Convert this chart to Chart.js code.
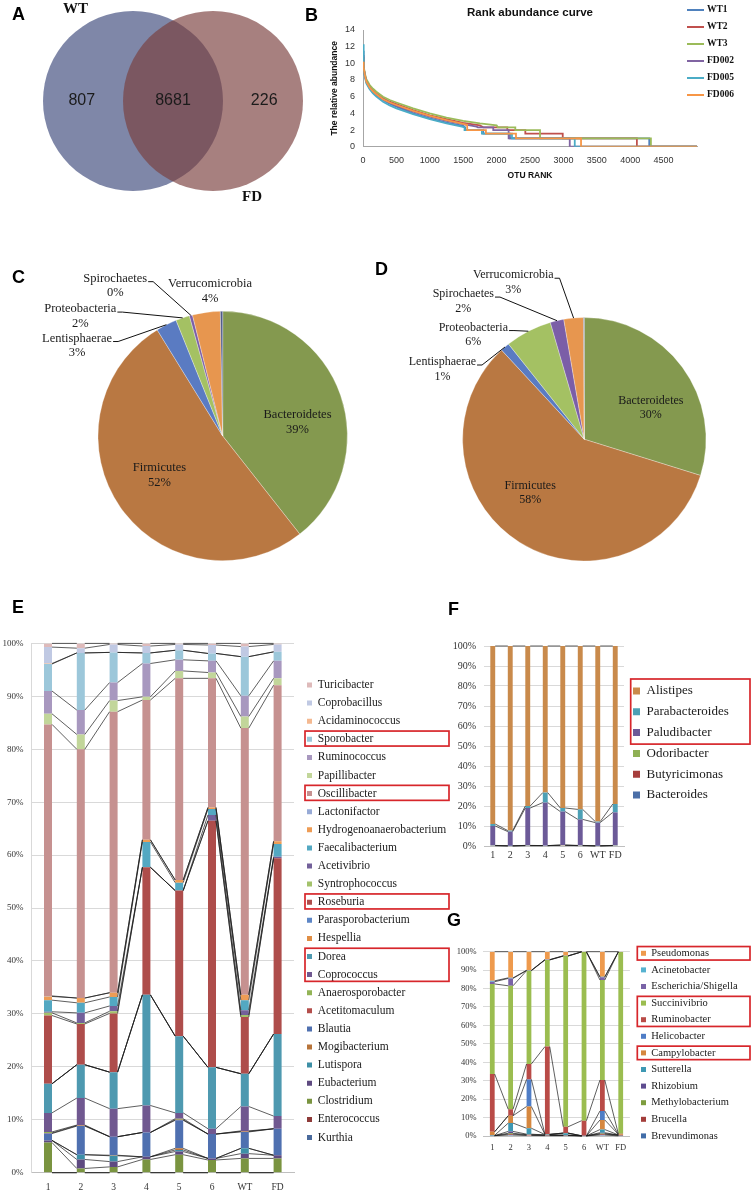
<!DOCTYPE html>
<html>
<head>
<meta charset="utf-8">
<title>Gut microbiota WT vs FD</title>
<script src="https://cdn.jsdelivr.net/npm/chart.js@4.4.1/dist/chart.umd.min.js"></script>
<style>
  html, body { margin: 0; padding: 0; background: #fff; }
  #page { position: relative; width: 756px; height: 1196px; overflow: hidden; }
  canvas { position: absolute; }
  .panel { position: absolute; font: bold 18px "Liberation Sans", Arial, sans-serif; line-height: 1; color: #000; }
  .setname { position: absolute; font: bold 15px "Liberation Serif", serif; line-height: 1; color: #111; }
  .rank-item { position: absolute; left: 687px; height: 15px; line-height: 15px; font: bold 9.5px "Liberation Serif", serif; color: #111; white-space: nowrap; }
  .rank-item span { display: inline-block; width: 17px; height: 2px; vertical-align: middle; margin-right: 3px; }
</style>
</head>
<body>
<div id="page">
  <canvas id="vennChart" width="320" height="202" style="left:0;top:0"></canvas>
  <canvas id="rankChart" width="426" height="186" style="left:330px;top:0"></canvas>
  <canvas id="pieWT" width="370" height="330" style="left:0;top:250px"></canvas>
  <canvas id="pieFD" width="386" height="330" style="left:370px;top:250px"></canvas>
  <canvas id="firmChart"></canvas>
  <canvas id="bactChart"></canvas>
  <canvas id="protChart"></canvas>
  <div id="rankLegend"></div>

  <div class="panel" style="left:12px;top:4.5px">A</div>
  <div class="panel" style="left:305px;top:5.5px">B</div>
  <div class="panel" style="left:12px;top:267.5px">C</div>
  <div class="panel" style="left:375px;top:259.5px">D</div>
  <div class="panel" style="left:12px;top:597.5px">E</div>
  <div class="panel" style="left:448px;top:599.5px">F</div>
  <div class="panel" style="left:447px;top:910.5px">G</div>
  <div class="setname" style="left:63px;top:0.7px">WT</div>
  <div class="setname" style="left:242px;top:189px">FD</div>
</div>
<script>
Chart.defaults.font.family = '"Liberation Serif", "Times New Roman", serif';
Chart.defaults.color = '#222';

// ---- A: shared OTUs ----
const vennSets = ['WT', 'FD'];
const vennCounts = [807, 8681, 226];   // WT only, shared, FD only

// ---- B: rank abundance curves [OTU rank, relative abundance] ----
const rankSamples = ['WT1', 'WT2', 'WT3', 'FD002', 'FD005', 'FD006'];
const rankWT1 = [[0,11.5],[10,9.6],[25,8.6],[50,7.8],[100,7.0],[150,6.5],[200,6.2],[300,5.6],[400,5.15],[500,4.8],[750,4.0],[1000,3.4],[1250,2.9],[1500,2.5],[1530,2.32],[1530,2],[1800,2],[1800,1.58],[2200,1.58],[2200,1],[4285,1],[4285,0],[5000,0]];
const rankWT2 = [[0,10.8],[10,9.6],[25,8.7],[50,7.9],[100,7.2],[150,6.75],[200,6.4],[300,5.8],[400,5.4],[500,5.1],[750,4.4],[1000,3.75],[1250,3.3],[1500,2.85],[1750,2.55],[1800,2.32],[2160,2.32],[2160,2],[2430,2],[2430,1.58],[2990,1.58],[2990,1],[4100,1],[4100,0],[5000,0]];
const rankWT3 = [[0,10.6],[10,9.7],[25,8.9],[50,8.1],[100,7.4],[150,6.95],[200,6.6],[300,6.0],[400,5.6],[500,5.3],[750,4.6],[1000,4.0],[1250,3.5],[1500,3.1],[1750,2.8],[2000,2.55],[2020,2.32],[2280,2.32],[2280,2],[2650,2],[2650,1],[4310,1],[4310,0],[5000,0]];
const rankFD002 = [[0,11.0],[10,9.5],[25,8.7],[50,7.8],[100,7.1],[150,6.6],[200,6.3],[300,5.7],[400,5.25],[500,4.9],[750,4.2],[1000,3.6],[1250,3.1],[1500,2.7],[1700,2.4],[1720,2.32],[1950,2.32],[1950,2],[2180,2],[2180,1],[3095,1],[3095,0],[5000,0]];
const rankFD005 = [[0,12.3],[10,9.4],[25,8.5],[50,7.6],[100,6.9],[150,6.4],[200,6.0],[300,5.4],[400,4.95],[500,4.6],[750,3.9],[1000,3.3],[1250,2.8],[1480,2.4],[1520,2.32],[1520,2],[1780,2],[1780,1.58],[2230,1.58],[2230,1],[3170,1],[3170,0],[5000,0]];
const rankFD006 = [[0,10.2],[10,9.5],[25,8.7],[50,7.8],[100,7.1],[150,6.65],[200,6.3],[300,5.7],[400,5.3],[500,5.0],[750,4.3],[1000,3.7],[1250,3.2],[1500,2.75],[1560,2.6],[1560,2],[1840,2],[1840,1.58],[2290,1.58],[2290,1],[3264,1],[3264,0],[5000,0]];
const rankColors = ['#4F81BD', '#C0504D', '#9BBB59', '#8064A2', '#4BACC6', '#F79646'];

// ---- C / D: phylum composition (%) ----
const phyla = ['Bacteroidetes', 'Firmicutes', 'Lentisphaerae', 'Proteobacteria', 'Spirochaetes', 'Verrucomicrobia', 'Other'];
const phylumWT = [39.4, 51.8, 2.7, 1.8, 0.4, 3.6, 0.3];
const phylumFD = [29.8, 58.3, 1.2, 6.2, 1.8, 2.6, 0.1];
const phylumColors = ['#84994F', '#B97842', '#5A7BC2', '#A4C163', '#7B5EA7', '#E7964F', '#4F5C8A'];

// ---- E/F/G: genus level, samples ----
const samples = ['1', '2', '3', '4', '5', '6', 'WT', 'FD'];

// Firmicutes genera, bottom of stack first
const firmicutesGenera = ['Kurthia', 'Enterococcus', 'Clostridium', 'Eubacterium', 'Lutispora', 'Mogibacterium', 'Blautia',
  'Acetitomaculum', 'Anaerosporobacter', 'Coprococcus', 'Dorea', 'Hespellia', 'Parasporobacterium', 'Roseburia',
  'Syntrophococcus', 'Acetivibrio', 'Faecalibacterium', 'Hydrogenoanaerobacterium', 'Lactonifactor', 'Oscillibacter',
  'Papillibacter', 'Ruminococcus', 'Sporobacter', 'Acidaminococcus', 'Coprobacillus', 'Turicibacter'];
const firmicutesShares = [
  [0, 0, 0, 0, 0, 0, 0, 0],                          // Kurthia
  [0, 0, 0, 0, 0, 0, 0, 0],                          // Enterococcus
  [5.7, 0.8, 1.1, 2.5, 3.4, 2.4, 2.7, 2.7],          // Clostridium
  [0.4, 1.7, 1.0, 0.5, 0.6, 0.3, 0.9, 0.6],          // Eubacterium
  [0, 0.9, 1.1, 0, 0.3, 0, 1.0, 0],                  // Lutispora
  [0, 0, 0.1, 0, 0.3, 0, 0, 0],                      // Mogibacterium
  [1.3, 5.4, 3.5, 4.6, 5.3, 4.6, 3.1, 5.0],          // Blautia
  [0.1, 0.1, 0, 0, 0.1, 0, 0.1, 0],                  // Acetitomaculum
  [0.2, 0.1, 0, 0, 0.2, 0, 0.1, 0],                  // Anaerosporobacter
  [3.6, 5.1, 5.3, 5.1, 1.1, 1.0, 4.6, 2.4],          // Coprococcus
  [5.5, 6.3, 6.9, 20.9, 14.5, 11.6, 6.2, 15.5],      // Dorea
  [0, 0, 0, 0, 0, 0, 0, 0],                          // Hespellia
  [0, 0, 0, 0, 0, 0, 0, 0],                          // Parasporobacterium
  [12.9, 7.7, 11.1, 24.1, 27.5, 46.6, 10.7, 33.2],   // Roseburia
  [0.5, 0.2, 0.4, 0, 0, 0, 0.4, 0],                  // Syntrophococcus
  [0.2, 1.9, 1.0, 0, 0, 1.1, 0.9, 0.3],              // Acetivibrio
  [2.2, 1.9, 1.7, 4.8, 1.5, 1.1, 1.9, 2.4],          // Faecalibacterium
  [0.7, 0.9, 0.8, 0.4, 0.5, 0.3, 1.0, 0.5],          // Hydrogenoanaerobacterium
  [0.1, 0, 0, 0, 0, 0, 0, 0],                        // Lactonifactor
  [51.3, 47.0, 53.1, 26.4, 38.1, 24.4, 50.4, 29.5],  // Oscillibacter
  [2.0, 2.8, 2.1, 0.6, 1.4, 1.1, 2.2, 1.3],          // Papillibacter
  [4.3, 4.6, 3.4, 6.3, 2.1, 2.2, 3.9, 3.3],          // Ruminococcus
  [5.1, 10.8, 5.7, 2.0, 1.8, 1.4, 7.4, 1.7],         // Sporobacter
  [0.1, 0, 0, 0, 0, 0, 0, 0],                        // Acidaminococcus
  [3.1, 0.9, 1.5, 1.3, 1.1, 1.6, 1.9, 1.4],          // Coprobacillus
  [0.7, 0.9, 0.2, 0.5, 0.2, 0.3, 0.6, 0.2]           // Turicibacter
];
const firmicutesColors = ['#4A6A9C', '#8E3B39', '#7A9440', '#5E4A80', '#3D8FA6', '#B7743A', '#4F70B0',
  '#B44E4B', '#93B457', '#705890', '#4E99B0', '#E08E45', '#5D86C6', '#AE4D4B',
  '#A3C26B', '#73609A', '#53A8C2', '#EE9C55', '#97AAD6', '#C69190',
  '#C2D69A', '#A898BF', '#9CC7DA', '#F4B991', '#C0C9E3', '#DEBABA'];

// Bacteroidetes genera, bottom first
const bacteroidetesGenera = ['Bacteroides', 'Butyricimonas', 'Odoribacter', 'Paludibacter', 'Parabacteroides', 'Alistipes'];
const bacteroidetesShares = [
  [0.2, 0.1, 0.2, 0.2, 0.3, 0.2, 0.1, 0.2],          // Bacteroides
  [0, 0, 0, 0, 0.1, 0, 0, 0],                        // Butyricimonas
  [0.1, 0, 0.1, 0, 0.1, 0.1, 0, 0.1],                // Odoribacter
  [9.7, 7.1, 18.7, 21.5, 16.7, 13.0, 11.6, 16.5],    // Paludibacter
  [1.0, 0.5, 1.0, 5.0, 1.8, 5.0, 0.5, 4.2],          // Parabacteroides
  [89.0, 92.3, 80.0, 73.3, 81.0, 81.7, 87.8, 79.0]   // Alistipes
];
const bacteroidetesColors = ['#4B6FA8', '#A63E3C', '#8FB055', '#6C5A98', '#4DA0B5', '#C98A4B'];

// Proteobacteria genera, bottom first
const proteobacteriaGenera = ['Brevundimonas', 'Brucella', 'Methylobacterium', 'Rhizobium', 'Sutterella', 'Campylobacter',
  'Helicobacter', 'Ruminobacter', 'Succinivibrio', 'Escherichia/Shigella', 'Acinetobacter', 'Pseudomonas'];
const proteobacteriaShares = [
  [0.2, 0.5, 0.3, 0.2, 0.2, 0.1, 0.5, 0.1],          // Brevundimonas
  [0, 0.5, 0.2, 0.2, 0.1, 0, 0.5, 0.3],              // Brucella
  [0, 0.5, 0.2, 0.1, 0.1, 0, 0.3, 0.1],              // Methylobacterium
  [0, 1.0, 0.3, 0.1, 0.1, 0, 0.5, 0],                // Rhizobium
  [0.2, 4.5, 3.2, 0.2, 1.0, 0, 1.7, 0.1],            // Sutterella
  [1.9, 4.0, 11.8, 0.1, 0.1, 0, 5.2, 0.3],           // Campylobacter
  [0, 0, 14.7, 0, 0, 0, 4.9, 0],                     // Helicobacter
  [31.3, 3.5, 8.4, 47.6, 3.4, 8.2, 16.8, 0.3],       // Ruminobacter
  [48.9, 67.0, 50.6, 47.0, 92.6, 91.6, 54.2, 98.7],  // Succinivibrio
  [1.2, 4.0, 0.1, 0.1, 0.1, 0, 1.5, 0],              // Escherichia/Shigella
  [0.5, 0.3, 0.1, 0.1, 0.1, 0, 0.3, 0],              // Acinetobacter
  [15.8, 14.2, 10.1, 4.3, 2.2, 0.1, 13.6, 0.1]       // Pseudomonas
];
const proteobacteriaColors = ['#416DA8', '#A33D3A', '#7E9D3F', '#5E4C8F', '#3E98B3', '#D5873F',
  '#4F7DC6', '#B94B47', '#9BBD50', '#7A63A7', '#56B2D0', '#EE9A4D'];

// ---------- plugins ----------
const vennLabels = {
  id: 'vennLabels',
  afterDatasetsDraw(chart) {
    const { ctx, scales: { x, y } } = chart;
    const spots = [-0.64, 0.5, 1.64];
    ctx.save();
    ctx.font = '16px "Liberation Sans", Arial, sans-serif';
    ctx.fillStyle = '#1b1b1b';
    ctx.textAlign = 'center';
    ctx.textBaseline = 'middle';
    vennCounts.forEach((n, i) => ctx.fillText(String(n), x.getPixelForValue(spots[i]), y.getPixelForValue(0.5)));
    ctx.restore();
  }
};

const pieLabels = {
  id: 'pieLabels',
  afterDatasetsDraw(chart, args, opts) {
    const ctx = chart.ctx;
    const arcs = chart.getDatasetMeta(0).data;
    const vals = chart.data.datasets[0].data;
    const total = vals.reduce((a, b) => a + b, 0);
    const lh = opts.lineHeight;
    ctx.save();
    ctx.font = opts.size + 'px "Liberation Serif", serif';
    ctx.fillStyle = '#1a1a1a';
    ctx.strokeStyle = '#111';
    ctx.lineWidth = 1;
    ctx.textAlign = 'center';
    ctx.textBaseline = 'middle';
    opts.spots.forEach(s => {
      const i = chart.data.labels.indexOf(s.name);
      const arc = arcs[i];
      const r = arc.outerRadius;
      const tx = arc.x + s.dx * r, ty = arc.y + s.dy * r;
      ctx.fillText(s.name, tx, ty - lh / 2);
      ctx.fillText(Math.round(vals[i] / total * 100) + '%', tx, ty + lh / 2);
      if (s.leader) {
        const mid = (arc.startAngle + arc.endAngle) / 2;
        const sx = tx + ctx.measureText(s.name).width / 2 + 1, sy = ty - lh / 2 + 3;
        ctx.beginPath();
        ctx.moveTo(sx, sy);
        ctx.lineTo(sx + 5, sy);
        ctx.lineTo(arc.x + Math.cos(mid) * r, arc.y + Math.sin(mid) * r);
        ctx.stroke();
      }
    });
    ctx.restore();
  }
};

// Excel style series lines between neighbouring bars
const seriesLines = {
  id: 'seriesLines',
  afterDatasetsDraw(chart) {
    const ctx = chart.ctx;
    ctx.save();
    ctx.strokeStyle = '#1a1a1a';
    ctx.lineWidth = 0.7;
    chart.data.datasets.forEach((ds, d) => {
      const bars = chart.getDatasetMeta(d).data;
      ctx.beginPath();
      for (let i = 0; i < bars.length - 1; i++) {
        const a = bars[i], b = bars[i + 1];
        ctx.moveTo(a.x + a.width / 2, a.y);
        ctx.lineTo(b.x - b.width / 2, b.y);
      }
      ctx.stroke();
    });
    ctx.restore();
  }
};

// keep the right-hand legend at a fixed width so the plot area does not move
const legendWidthLock = {
  id: 'legendWidthLock',
  beforeLayout(chart, args, opts) {
    const lg = chart.legend;
    if (lg && !lg._widthLocked) {
      const fit = lg.fit;
      lg.fit = function () { fit.call(this); this.width = opts.width; };
      lg._widthLocked = true;
    }
  }
};

// red frames around highlighted legend entries
const legendFrames = {
  id: 'legendFrames',
  afterDraw(chart, args, opts) {
    const lg = chart.legend;
    if (!lg || !lg.legendHitBoxes || !opts.groups) return;
    const ctx = chart.ctx;
    ctx.save();
    ctx.strokeStyle = '#D7262B';
    ctx.lineWidth = 1.7;
    opts.groups.forEach(group => {
      const hits = lg.legendItems.map((it, i) => group.includes(it.text) ? lg.legendHitBoxes[i] : null).filter(Boolean);
      if (!hits.length) return;
      const top = Math.min(...hits.map(h => h.top)) - opts.above;
      const bottom = Math.max(...hits.map(h => h.top + h.height)) + opts.below;
      const left = hits[0].left - opts.inset;
      ctx.strokeRect(left, top, opts.right - left, bottom - top);
    });
    ctx.restore();
  }
};

// ---------- A ----------
new Chart(document.getElementById('vennChart'), {
  type: 'bubble',
  data: {
    datasets: vennSets.map((name, i) => ({
      label: name,
      data: [{ x: i, y: 0.5 }],
      backgroundColor: i === 0 ? '#7F87A8' : 'rgba(122,62,61,0.66)',
      borderWidth: 0,
      radius: 90,
      clip: false,
      order: vennSets.length - i
    }))
  },
  options: {
    responsive: false, animation: false, events: [],
    layout: { padding: 0, autoPadding: false },
    plugins: { legend: { display: false }, tooltip: { enabled: false } },
    scales: {
      x: { type: 'linear', display: false, min: -1.6625, max: 2.3375 },
      y: { type: 'linear', display: false, min: 0, max: 1 }
    }
  },
  plugins: [vennLabels]
});

// ---------- B ----------
const rankSeries = [rankWT1, rankWT2, rankWT3, rankFD002, rankFD005, rankFD006];
new Chart(document.getElementById('rankChart'), {
  type: 'scatter',
  data: {
    datasets: rankSamples.map((name, i) => ({
      label: name,
      data: rankSeries[i].map(([x, y]) => ({ x, y })),
      showLine: true,
      borderColor: rankColors[i],
      backgroundColor: rankColors[i],
      borderWidth: 1.8,
      pointRadius: 0,
      order: rankSamples.length - i
    }))
  },
  options: {
    responsive: false, animation: false, events: [],
    layout: { padding: { left: 0, top: 0, right: 59, bottom: 0 } },
    plugins: {
      legend: { display: false },
      tooltip: { enabled: false },
      title: {
        display: true, text: 'Rank abundance curve', fullSize: false, color: '#111',
        font: { family: '"Liberation Sans", Arial, sans-serif', size: 11.5, weight: 'bold' },
        padding: { top: 6.1, bottom: 10.1 }
      }
    },
    scales: {
      x: {
        type: 'linear', min: 0, max: 5000,
        grid: { display: false, drawTicks: false },
        border: { color: '#A6A6A6' },
        ticks: { stepSize: 500, padding: 8.6, maxRotation: 0, color: '#333',
          font: { family: '"Liberation Sans", Arial, sans-serif', size: 9 },
          callback: v => v === 5000 ? '' : String(v) },
        title: { display: true, text: 'OTU RANK', color: '#111',
          font: { family: '"Liberation Sans", Arial, sans-serif', size: 8.5, weight: 'bold' },
          padding: { top: 0, bottom: 4.9 } },
        afterFit: s => { s.height = 39.3; }
      },
      y: {
        min: 0, max: 14,
        grid: { display: false, drawTicks: false },
        border: { color: '#A6A6A6' },
        ticks: { stepSize: 2, padding: 8, color: '#333',
          font: { family: '"Liberation Sans", Arial, sans-serif', size: 9 } },
        title: { display: true, text: 'The relative abundance', color: '#111',
          font: { family: '"Liberation Sans", Arial, sans-serif', size: 8.5, weight: 'bold' },
          padding: { top: 0, bottom: 0 } },
        afterFit: s => { s.width = 33; }
      }
    }
  }
});

const rankLegend = document.getElementById('rankLegend');
rankSamples.forEach((name, i) => {
  const row = document.createElement('div');
  row.className = 'rank-item';
  row.style.top = (4.2 + i * 17) + 'px';
  row.innerHTML = '<span style="background:' + rankColors[i] + '"></span>' + name;
  rankLegend.appendChild(row);
});

// ---------- C / D ----------
function phylumPie(id, values, pad, size, spots) {
  new Chart(document.getElementById(id), {
    type: 'pie',
    data: {
      labels: phyla,
      datasets: [{ data: values, backgroundColor: phylumColors, borderColor: 'rgba(255,255,255,0.5)', borderWidth: 0.6, hoverOffset: 0 }]
    },
    options: {
      responsive: false, animation: false, events: [],
      layout: { padding: pad },
      plugins: {
        legend: { display: false }, tooltip: { enabled: false },
        pieLabels: { spots, size, lineHeight: 14.4 }
      }
    },
    plugins: [pieLabels]
  });
}

phylumPie('pieWT', phylumWT, { left: 97.7, right: 22.3, top: 61, bottom: 19 }, 12.5, [
  { name: 'Bacteroidetes', dx: 0.6, dy: -0.112 },
  { name: 'Firmicutes', dx: -0.507, dy: 0.316 },
  { name: 'Spirochaetes', dx: -0.862, dy: -1.204, leader: true },
  { name: 'Verrucomicrobia', dx: -0.102, dy: -1.16 },
  { name: 'Proteobacteria', dx: -1.142, dy: -0.96, leader: true },
  { name: 'Lentisphaerae', dx: -1.168, dy: -0.724, leader: true }
]);
phylumPie('pieFD', phylumFD, { left: 92.3, right: 49.7, top: 67.3, bottom: 18.7 }, 12, [
  { name: 'Bacteroidetes', dx: 0.547, dy: -0.257 },
  { name: 'Firmicutes', dx: -0.445, dy: 0.44 },
  { name: 'Verrucomicrobia', dx: -0.584, dy: -1.289, leader: true },
  { name: 'Spirochaetes', dx: -0.994, dy: -1.134, leader: true },
  { name: 'Proteobacteria', dx: -0.912, dy: -0.859, leader: true },
  { name: 'Lentisphaerae', dx: -1.166, dy: -0.576, leader: true }
]);

// ---------- E / F / G ----------
function genusPanel(id, genera, shares, colors, g, frames) {
  const el = document.getElementById(id);
  el.width = g.w; el.height = g.h;
  el.style.left = g.left + 'px'; el.style.top = g.top + 'px';
  const cl = g.area[0] - g.left, ct = g.area[1] - g.top, cr = g.area[2] - g.left, cb = g.area[3] - g.top;
  const pad = g.step - g.font;
  const itemTop = g.legendY - g.font / 2 - g.top;
  const P = Math.min(ct, itemTop - pad);
  const legendLeft = g.legendX - pad - g.left;
  const serif = '"Liberation Serif", "Times New Roman", serif';

  new Chart(el, {
    type: 'bar',
    data: {
      labels: samples,
      datasets: genera.map((name, k) => ({
        label: name, data: shares[k], backgroundColor: colors[k], borderWidth: 0,
        barPercentage: g.bar, categoryPercentage: 1
      }))
    },
    options: {
      responsive: false, animation: false, events: [],
      layout: { padding: { left: 0, top: P, right: 0, bottom: 0 } },
      plugins: {
        tooltip: { enabled: false },
        legend: {
          position: 'right', align: 'start', reverse: true,
          title: { display: true, text: '', font: { size: 1, lineHeight: 0 }, padding: { top: itemTop - pad - P, bottom: 0 } },
          labels: { boxWidth: g.box, boxHeight: g.box, padding: pad, color: '#1a1a1a', font: { family: serif, size: g.font } }
        },
        legendWidthLock: { width: g.w - legendLeft },
        legendFrames: frames
      },
      scales: {
        x: {
          stacked: true,
          grid: { display: false, drawTicks: false },
          border: { color: '#BFBFBF' },
          ticks: { padding: g.xPad, color: '#333', font: { family: serif, size: g.xFont }, maxRotation: 0, autoSkip: false },
          afterFit: s => { s.height = g.h - cb; }
        },
        y: {
          stacked: true, min: 0, max: 100,
          grid: { color: '#D9D9D9', drawTicks: false },
          border: { display: g.yLine, color: '#D9D9D9' },
          ticks: { stepSize: 10, padding: g.yPad, color: '#333', font: { family: serif, size: g.tickFont }, callback: v => v + '%' },
          afterFit: s => { s.width = cl; }
        },
        topGap: {
          type: 'linear', position: 'top', display: true,
          grid: { display: false }, border: { display: false }, ticks: { display: false },
          afterFit: s => { s.height = ct - P; }
        },
        rightGap: {
          type: 'linear', position: 'right', display: true,
          grid: { display: false }, border: { display: false }, ticks: { display: false },
          afterFit: s => { s.width = legendLeft - cr; }
        }
      }
    },
    plugins: [legendWidthLock, seriesLines, legendFrames]
  });
}

genusPanel('firmChart', firmicutesGenera, firmicutesShares, firmicutesColors,
  { left: 0, top: 630, w: 460, h: 566, area: [31.6, 641.7, 294, 1172.7], legendX: 307, legendY: 685, step: 18.1,
    font: 11.5, box: 5, bar: 0.244, tickFont: 9, xFont: 9.5, yPad: 8, xPad: 8.9, yLine: true },
  { groups: [['Sporobacter'], ['Oscillibacter'], ['Roseburia'], ['Dorea', 'Coprococcus']], above: 2.5, below: 1, inset: 2, right: 449 });

genusPanel('bactChart', bacteroidetesGenera, bacteroidetesShares, bacteroidetesColors,
  { left: 440, top: 630, w: 316, h: 236, area: [484, 646, 624, 846], legendX: 633, legendY: 691, step: 20.8,
    font: 13, box: 7, bar: 0.28, tickFont: 10, xFont: 10, yPad: 8, xPad: 3, yLine: false },
  { groups: [['Alistipes', 'Parabacteroides', 'Paludibacter']], above: 5.5, below: 5, inset: 2.3, right: 310 });

genusPanel('protChart', proteobacteriaGenera, proteobacteriaShares, proteobacteriaColors,
  { left: 440, top: 935, w: 316, h: 230, area: [483.1, 951.7, 629.9, 1136], legendX: 641, legendY: 953.3, step: 16.6,
    font: 10.5, box: 5, bar: 0.26, tickFont: 8.5, xFont: 8.5, yPad: 6.4, xPad: 7, yLine: false },
  { groups: [['Pseudomonas'], ['Succinivibrio', 'Ruminobacter'], ['Campylobacter']], above: 1.5, below: 1.5, inset: 3.7, right: 310 });
</script>
</body>
</html>
